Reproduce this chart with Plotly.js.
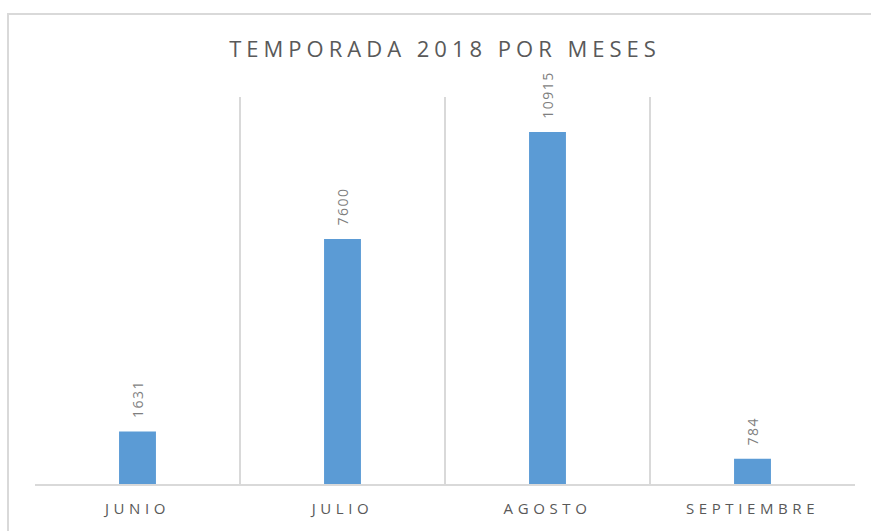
<!DOCTYPE html>
<html>
<head>
<meta charset="utf-8">
<script src="https://cdn.plot.ly/plotly-3.0.1.min.js"></script>
<style>
  html, body { margin: 0; padding: 0; background: #fff; }
  #wrap { position: relative; width: 871px; height: 531px; overflow: hidden; }
  #frame { position: absolute; left: 7px; top: 13px; width: 900px; height: 600px;
           border-top: 2px solid #d9d9d9; border-left: 2px solid #d9d9d9; pointer-events: none; }
  .gtitle { letter-spacing: 5px; }
  .xtick text { letter-spacing: 4.6px; }
  .bartext { letter-spacing: 1.5px; }
</style>
</head>
<body>
<div id="wrap">
  <div id="chart" style="width:871px;height:531px;"></div>
  <div id="frame"></div>
</div>
<script>
  const months = ["JUNIO", "JULIO", "AGOSTO", "SEPTIEMBRE"];
  const visitors = [1631, 7600, 10915, 784];
  const chartTitle = "TEMPORADA 2018 POR MESES";

  const trace = {
    type: "bar",
    x: months,
    y: visitors,
    width: 0.18,
    marker: { color: "#5b9bd5" },
    text: visitors.map(v => "\u00a0\u00a0" + String(v)),
    textposition: "outside",
    textangle: -90,
    constraintext: "none",
    cliponaxis: false,
    textfont: { family: "Open Sans", size: 14, color: "#7f7f7f" },
    hoverinfo: "none"
  };

  const layout = {
    width: 871,
    height: 531,
    margin: { l: 35, r: 16, t: 97, b: 47 },
    paper_bgcolor: "#ffffff",
    plot_bgcolor: "#ffffff",
    showlegend: false,
    title: {
      text: chartTitle,
      font: { family: "Open Sans", size: 22, color: "#595959" },
      x: 0.5, xref: "paper", xanchor: "center",
      y: 1 - 49 / 531, yref: "container", yanchor: "middle"
    },
    xaxis: {
      type: "category",
      range: [-0.5, 3.5],
      tickson: "boundaries",
      showgrid: true,
      gridcolor: "#d9d9d9",
      gridwidth: 1.5,
      ticks: "",
      showline: true,
      linecolor: "#d9d9d9",
      linewidth: 2,
      ticklabelstandoff: 10,
      tickfont: { family: "Open Sans", size: 15, color: "#595959" },
      fixedrange: true
    },
    yaxis: {
      range: [0, 12000],
      visible: false,
      showgrid: false,
      zeroline: false,
      fixedrange: true
    }
  };

  Plotly.newPlot("chart", [trace], layout, { displayModeBar: false, staticPlot: true });
</script>
</body>
</html>
